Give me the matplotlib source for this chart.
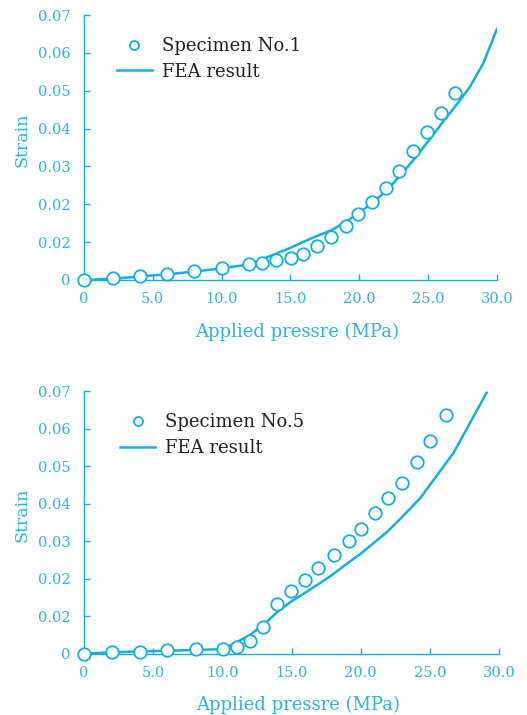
import numpy as np
import matplotlib.pyplot as plt

# Specimen No.1 (measured) and FEA curve
p1 = [0, 2.1, 4.1, 6.0, 8.0, 10.0, 12.0, 12.95, 13.95, 15.05, 15.9, 16.9, 17.95,
      19.0, 19.9, 20.9, 21.95, 22.85, 23.9, 24.9, 25.95, 26.95]
s1 = [0, 0.0004, 0.0011, 0.0015, 0.0025, 0.0032, 0.0041, 0.0044, 0.0053, 0.0059,
      0.0069, 0.0089, 0.0113, 0.0143, 0.0175, 0.0205, 0.0242, 0.0287, 0.0341,
      0.0391, 0.0440, 0.0494]
fea_p1 = [0, 2, 4, 6, 8, 10, 12, 13.5, 15, 16.5, 18, 19, 20, 21, 22, 23, 24, 25,
          26, 27, 28, 29, 30]
fea_s1 = [0, 0.0003, 0.0009, 0.0015, 0.0022, 0.0031, 0.0041, 0.0063, 0.0085, 0.0110,
          0.0132, 0.0153, 0.0178, 0.0205, 0.0237, 0.0277, 0.0320, 0.0366, 0.0414,
          0.0460, 0.0508, 0.0572, 0.0663]

# Specimen No.5 (measured) and FEA curve
p5 = [0, 2.05, 4.05, 6.0, 8.1, 10.05, 11.05, 12.0, 12.95, 13.95, 14.95, 15.95,
      16.95, 18.05, 19.15, 20.0, 21.05, 22.0, 23.0, 24.05, 25.0, 26.2]
s5 = [0, 0.0005, 0.0005, 0.0010, 0.0013, 0.0013, 0.0017, 0.0033, 0.0071, 0.0133,
      0.0167, 0.0198, 0.0229, 0.0263, 0.0301, 0.0332, 0.0376, 0.0415, 0.0455,
      0.0511, 0.0568, 0.0637]
fea_p5 = [0, 2, 4, 6, 8, 10, 11, 12, 13, 14, 15, 16, 17, 18, 19, 20, 21, 22, 23,
          24.3, 26.7, 29.1]
fea_s5 = [0, 0.0004, 0.0006, 0.0008, 0.0010, 0.0012, 0.0030, 0.0050, 0.0078, 0.0112,
          0.0140, 0.0163, 0.0187, 0.0212, 0.0240, 0.0267, 0.0297, 0.0328, 0.0365,
          0.0415, 0.0535, 0.0696]

xticks = [0, 5, 10, 15, 20, 25, 30]
xlabels = ['0', '5.0', '10.0', '15.0', '20.0', '25.0', '30.0']
yticks = [0, 0.01, 0.02, 0.03, 0.04, 0.05, 0.06, 0.07]
ylabels = ['0', '0.02', '0.02', '0.03', '0.04', '0.05', '0.06', '0.07']

CYAN = '#12aee6'
TXT = '#29b3e8'
plt.rcParams['font.family'] = ['DejaVu Serif']

fig = plt.figure(figsize=(5.27, 7.15), dpi=100)
ax1 = fig.add_axes([0.1594, 0.6084, 0.7836, 0.3706])
ax2 = fig.add_axes([0.1594, 0.0857, 0.7875, 0.3670])

panels = [(ax1, p1, s1, fea_p1, fea_s1, 'Specimen No.1', (0.04, 0.978)),
          (ax2, p5, s5, fea_p5, fea_s5, 'Specimen No.5', (0.048, 0.978))]

for ax, p, s, fp, fs, name, anchor in panels:
    ax.plot(fp, fs, color=CYAN, lw=1.8, label='FEA result', zorder=2)
    ax.plot(p, s, 'o', ms=9, mfc='white', mec=CYAN, mew=1.3, label=name,
            zorder=3, clip_on=False)
    ax.set_xlim(0, 30)
    ax.set_ylim(0, 0.07)
    ax.set_xticks(xticks)
    ax.set_xticklabels(xlabels)
    ax.set_yticks(yticks)
    ax.set_yticklabels(ylabels)
    for side in ['top', 'right']:
        ax.spines[side].set_visible(False)
    for side in ['left', 'bottom']:
        ax.spines[side].set_color(CYAN)
        ax.spines[side].set_linewidth(1.0)
    ax.tick_params(direction='in', length=4, width=1.0, color=CYAN,
                   labelcolor=TXT, labelsize=10.5)
    ax.tick_params(axis='y', pad=9.5)
    ax.tick_params(axis='x', pad=9)
    ax.set_xlabel('Applied pressre (MPa)', color=TXT, fontsize=13, va='center')
    ax.set_ylabel('Strain', color=TXT, fontsize=12.5, va='center')
    ax.xaxis.set_label_coords(0.516, -0.195)
    ax.yaxis.set_label_coords(-0.15, 0.53)
    h, l = ax.get_legend_handles_labels()
    leg = ax.legend(h[::-1], l[::-1], loc='upper left', bbox_to_anchor=anchor,
                    frameon=False, fontsize=13, handlelength=1.95,
                    handletextpad=0.55, labelspacing=0.42, markerscale=0.72)
    for t in leg.get_texts():
        t.set_color('#231f20')

fig.savefig('out.png', dpi=100)
